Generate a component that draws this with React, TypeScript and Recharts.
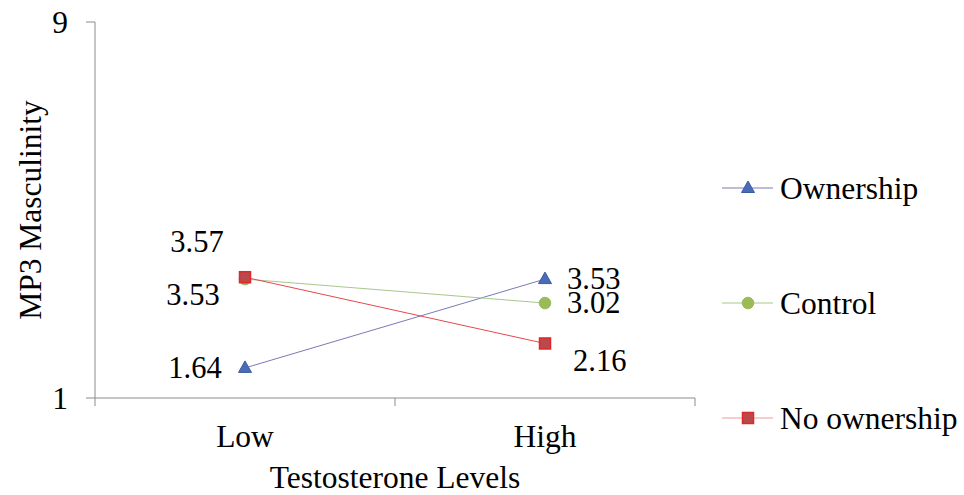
import React from 'react';
import { LineChart, Line, XAxis, YAxis, LabelList } from 'recharts';

const categories = ['Low', 'High'];
const ownership = [1.64, 3.53];
const control = [3.53, 3.02];
const noOwnership = [3.57, 2.16];
const yTicks = [1, 9];
const seriesNames = ['Ownership', 'Control', 'No ownership'];

const data = categories.map((c, i) => ({
  cat: c,
  x: i + 0.5,
  ownership: ownership[i],
  control: control[i],
  noOwnership: noOwnership[i],
}));

const FONT = 'Liberation Serif';
const AXIS = '#8c8c8c';
const TXT = { fontFamily: FONT, fontSize: 30.5 };
const TXT_BIG = { fontFamily: FONT, fontSize: 31.5 };

const styles: Record<string, any> = {
  ownership: { line: '#7a7ab8', fill: '#4a6cb8', stroke: '#3d5c9e', shape: 'triangle', legendLine: '#7a7ab8' },
  control: { line: '#a8c88e', fill: '#9bbb59', stroke: '#9bbb59', shape: 'circle', legendLine: '#a8c88e' },
  noOwnership: { line: '#e8474a', fill: '#b9494b', stroke: '#e0282c', shape: 'square', legendLine: '#f09a9a' },
};

const labelOffsets: Record<string, number[][]> = {
  ownership: [[-50, 0], [22, 0]],
  control: [[-52, 16], [22, 0]],
  noOwnership: [[-48, -35], [28, 18]],
};

const Marker = ({ cx, cy, shape, fill, stroke }: any) => {
  if (cx == null || cy == null) return null;
  if (shape === 'triangle') {
    return <polygon points={`${cx},${cy - 7} ${cx + 6.5},${cy + 4.5} ${cx - 6.5},${cy + 4.5}`} fill={fill} stroke={stroke} strokeWidth={1} />;
  }
  if (shape === 'square') {
    return <rect x={cx - 5.5} y={cy - 5.5} width={11} height={11} fill={fill} stroke={stroke} strokeWidth={1.5} />;
  }
  return <circle cx={cx} cy={cy} r={5.8} fill={fill} stroke={stroke} strokeWidth={1} />;
};

const XTick = (props: any) => {
  const { x, y, payload } = props;
  const v = payload.value;
  if (Number.isInteger(v)) {
    return <line x1={x} x2={x} y1={y} y2={y + 8} stroke={AXIS} strokeWidth={1} />;
  }
  const label = categories[Math.floor(v)];
  return (
    <text x={x} y={y + 38} textAnchor="middle" dominantBaseline="central" style={TXT_BIG} fill="#000">
      {label}
    </text>
  );
};

const YTick = (props: any) => {
  const { x, y, payload } = props;
  return (
    <g>
      <line x1={x - 9} x2={x} y1={y} y2={y} stroke={AXIS} strokeWidth={1} />
      <text x={x - 27} y={y} textAnchor="end" dominantBaseline="central" style={TXT_BIG} fill="#000">
        {payload.value}
      </text>
    </g>
  );
};

const makeLabel = (key: string) => (props: any) => {
  const { x, y, value, index } = props;
  const off = labelOffsets[key][index] || [0, 0];
  return (
    <text x={x + off[0]} y={y + off[1]} textAnchor={off[0] < 0 ? 'middle' : 'start'} dominantBaseline="central" style={TXT} fill="#000">
      {Number(value).toFixed(2)}
    </text>
  );
};

const keys = ['ownership', 'control', 'noOwnership'];

const LegendBox = () => (
  <svg width={249} height={300} style={{ position: 'absolute', left: 715, top: 160 }}>
    {keys.map((k, i) => {
      const s = styles[k];
      const cy = [28, 143, 258][i];
      return (
        <g key={k}>
          <line x1={7} x2={58} y1={cy} y2={cy} stroke={s.legendLine} strokeWidth={1.2} />
          <Marker cx={33} cy={cy} shape={s.shape} fill={s.fill} stroke={s.stroke} />
          <text x={65} y={cy} dominantBaseline="central" style={TXT_BIG} fill="#000">
            {seriesNames[i]}
          </text>
        </g>
      );
    })}
  </svg>
);

const XTitle = (props: any) => {
  const { viewBox } = props;
  const cx = viewBox.x + viewBox.width / 2;
  return (
    <text x={cx} y={477} textAnchor="middle" dominantBaseline="central" style={TXT_BIG} fill="#000">
      Testosterone Levels
    </text>
  );
};

const YTitle = (props: any) => {
  const { viewBox } = props;
  const cy = viewBox.y + viewBox.height / 2;
  return (
    <text x={30} y={cy} transform={`rotate(-90 30 ${cy})`} textAnchor="middle" dominantBaseline="central" style={TXT_BIG} fill="#000">
      MP3 Masculinity
    </text>
  );
};

export default function App() {
  return (
    <div style={{ position: 'absolute', left: 0, top: 0, width: 964, height: 495, background: '#fff' }}>
      <LineChart width={964} height={495} data={data} margin={{ top: 22, right: 269, bottom: 0, left: 0 }}>
        <XAxis
          type="number"
          dataKey="x"
          domain={[0, 2]}
          ticks={[0, 0.5, 1, 1.5, 2]}
          interval={0}
          height={97}
          tickSize={0}
          tickMargin={0}
          tickLine={false}
          axisLine={{ stroke: AXIS, strokeWidth: 1 }}
          tick={<XTick />}
          label={<XTitle />}
        />
        <YAxis
          type="number"
          domain={[1, 9]}
          ticks={yTicks}
          interval={0}
          width={95}
          tickSize={0}
          tickMargin={0}
          tickLine={false}
          axisLine={{ stroke: AXIS, strokeWidth: 1 }}
          tick={<YTick />}
          label={<YTitle />}
        />
        {keys.map((k, i) => {
          const s = styles[k];
          return (
            <Line
              key={k}
              type="linear"
              dataKey={k}
              name={seriesNames[i]}
              stroke={s.line}
              strokeWidth={1}
              isAnimationActive={false}
              dot={(p: any) => <Marker key={`${k}-${p.index}`} cx={p.cx} cy={p.cy} shape={s.shape} fill={s.fill} stroke={s.stroke} />}
              activeDot={false}
            >
              <LabelList dataKey={k} content={makeLabel(k)} />
            </Line>
          );
        })}
      </LineChart>
      <LegendBox />
    </div>
  );
}
